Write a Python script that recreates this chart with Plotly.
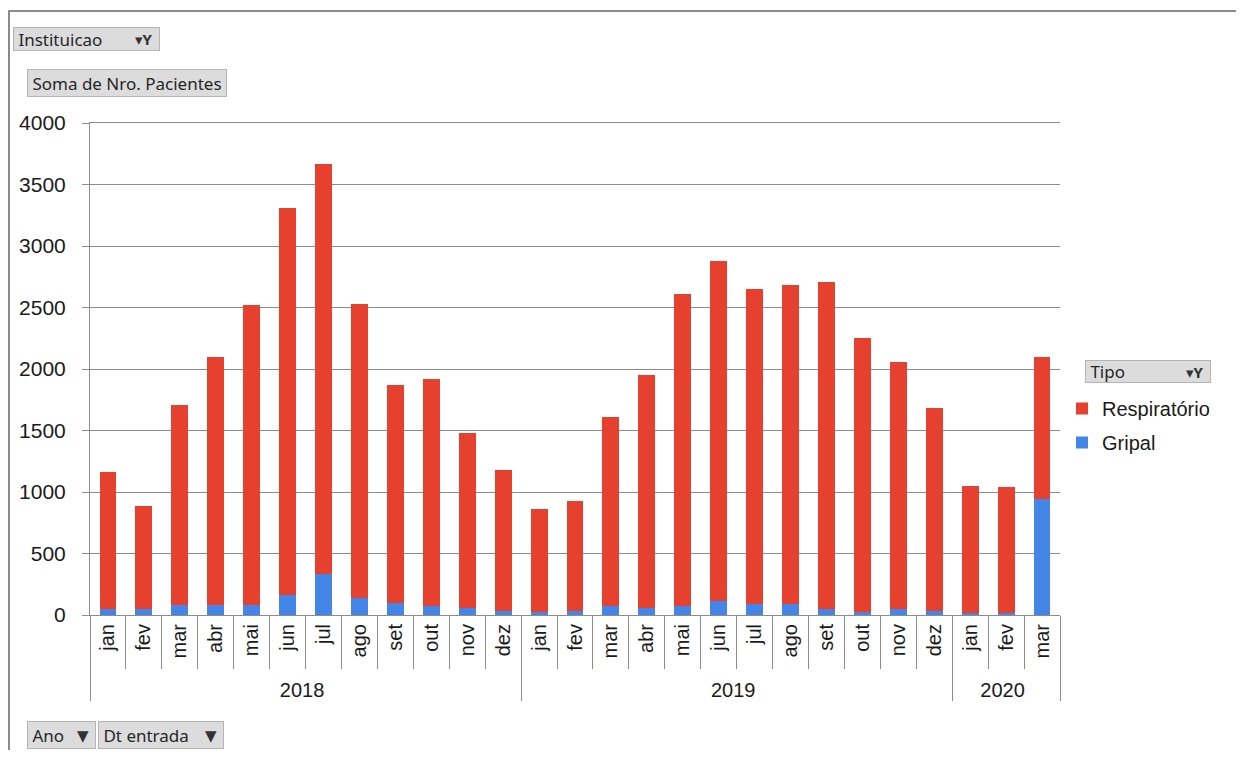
import plotly.graph_objects as go

# ---- data ----
anos = ["2018"] * 12 + ["2019"] * 12 + ["2020"] * 3
meses = ["jan", "fev", "mar", "abr", "mai", "jun", "jul", "ago", "set", "out", "nov", "dez",
         "jan", "fev", "mar", "abr", "mai", "jun", "jul", "ago", "set", "out", "nov", "dez",
         "jan", "fev", "mar"]
total = [1160, 890, 1710, 2100, 2520, 3310, 3670, 2530, 1870, 1920, 1480, 1180,
         860, 930, 1610, 1950, 2610, 2880, 2650, 2680, 2710, 2250, 2060, 1680,
         1050, 1040, 2100]
gripal = [50, 45, 85, 85, 85, 165, 330, 135, 100, 70, 60, 35,
          25, 35, 75, 60, 75, 110, 90, 90, 50, 25, 45, 30,
          20, 15, 945]
respiratorio = [t - g for t, g in zip(total, gripal)]
y_ticks = [0, 500, 1000, 1500, 2000, 2500, 3000, 3500, 4000]

RED = "#E5412E"
BLUE = "#4386E8"
GRID = "#8C8C8C"

# page has an 8px body margin; plot area in page pixels
OFF = 8
L, R, T, B = 90, 1060, 123, 615
W, H = 1244 - 2 * OFF, 758 - 2 * OFF


def px(x):
    return (x - L) / (R - L)


def py(y):
    return (B - y) / (B - T)


fig = go.Figure()
fig.add_trace(go.Bar(x=[anos, meses], y=gripal, name="Gripal", marker_color=BLUE,
                     marker_line_width=0, legendgroup="g", legendrank=2))
fig.add_trace(go.Bar(x=[anos, meses], y=respiratorio, name="Respiratório", marker_color=RED,
                     marker_line_width=0, legendgroup="r", legendrank=1))

fig.update_layout(
    width=W, height=H,
    margin=dict(l=L - OFF, r=W - (R - OFF), t=T - OFF, b=H - (B - OFF)),
    barmode="stack", bargap=0.53,
    plot_bgcolor="white", paper_bgcolor="white",
    font=dict(family="Liberation Sans, Arial, sans-serif", color="#1a1a1a"),
    showlegend=True,
    legend=dict(traceorder="grouped", x=px(1062), y=py(389), xanchor="left",
                yanchor="top", font=dict(size=20, color="#1a1a1a"), itemwidth=30,
                tracegroupgap=5, bgcolor="rgba(0,0,0,0)"),
)
fig.update_yaxes(range=[0, 4000], tickvals=y_ticks, showgrid=True, gridcolor=GRID, gridwidth=1,
                 showline=True, linecolor=GRID, linewidth=1, ticks="outside", ticklen=7,
                 tickcolor=GRID, tickfont=dict(size=21, color="#1a1a1a"), zeroline=False,
                 ticklabelstandoff=12)
fig.update_xaxes(type="multicategory", range=[-0.5, 26.5], showline=True, linecolor=GRID,
                 mirror=True,
                 ticks="outside", tickson="boundaries", ticklen=53, tickcolor=GRID,
                 tickangle=-90, tickfont=dict(size=20, color="#1a1a1a"),
                 showdividers=True, dividercolor=GRID, dividerwidth=1)

# chart frame (top and left border)
fig.add_shape(type="line", xref="paper", yref="paper", x0=px(8), x1=px(1244), y0=py(11),
              y1=py(11), line=dict(color="#8a8a8a", width=2))
fig.add_shape(type="line", xref="paper", yref="paper", x0=px(9), x1=px(9), y0=py(11),
              y1=py(758), line=dict(color="#8a8a8a", width=2))

BTN_FONT = "Noto Sans, DejaVu Sans, sans-serif"


def button(x0, y0, x1, y1, text, icon=None):
    fig.add_annotation(xref="paper", yref="paper", x=px(x0), y=py(y0), xanchor="left",
                       yanchor="top", width=x1 - x0 - 2, height=y1 - y0 - 2, align="left",
                       valign="middle", text=text, showarrow=False,
                       font=dict(family=BTN_FONT, size=17, color="#262626"),
                       bgcolor="#dcdcdc", bordercolor="#b4b4b4", borderwidth=1, borderpad=0)
    if icon:
        fig.add_annotation(xref="paper", yref="paper", x=px(x1 - 5), y=py((y0 + y1) / 2),
                           xanchor="right", yanchor="middle", text=icon, showarrow=False,
                           font=dict(family=BTN_FONT, size=15, color="#333333"))


button(13, 27, 160, 51, " Instituicao", "▾<b>Y</b>")
button(27, 69, 227, 97, " Soma de Nro. Pacientes")
button(1085, 360, 1211, 383, " Tipo", "▾<b>Y</b>")
button(27, 721, 96, 749, " Ano", "▼")
button(98, 721, 224, 749, " Dt entrada", "▼")

fig.write_html("out.html")
